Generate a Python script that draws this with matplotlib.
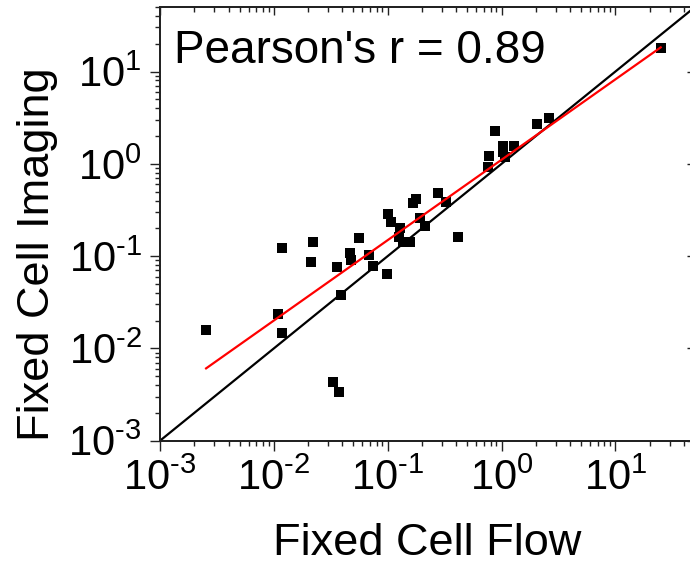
import numpy as np
import matplotlib
matplotlib.use("Agg")
import matplotlib.pyplot as plt
from matplotlib.ticker import FuncFormatter

plt.rcParams['font.family'] = ['Liberation Sans', 'DejaVu Sans']
plt.rcParams['mathtext.fontset'] = 'custom'
plt.rcParams['mathtext.rm'] = 'Liberation Sans'
plt.rcParams['mathtext.it'] = 'Liberation Sans:italic'
plt.rcParams['mathtext.bf'] = 'Liberation Sans:bold'
plt.rcParams['mathtext.default'] = 'regular'

# ---- data ----
flow = [0.00254, 0.0117, 0.0109, 0.0119, 0.0219, 0.0211, 0.036, 0.0388,
        0.0333, 0.0375, 0.0466, 0.048, 0.056, 0.0689, 0.0747, 0.099,
        0.101, 0.106, 0.128, 0.126, 0.136, 0.156, 0.168, 0.178, 0.192,
        0.212, 0.277, 0.327, 0.416, 0.762, 0.778, 0.879, 1.02, 1.28,
        1.07, 1.03, 2.03, 2.62, 25.0]
imaging = [0.0158, 0.123, 0.0236, 0.0146, 0.141, 0.0869, 0.0767, 0.0379,
           0.0043, 0.0034, 0.107, 0.0908, 0.156, 0.103, 0.078, 0.064,
           0.286, 0.232, 0.200, 0.162, 0.143, 0.143, 0.373, 0.415, 0.257,
           0.21, 0.486, 0.39, 0.161, 0.916, 1.22, 2.29, 1.56, 1.56,
           1.19, 1.35, 2.70, 3.15, 17.8]
fit_slope = 0.871       # log10-log10 regression slope
fit_intercept = 0.044   # log10 intercept
axis_limits = [1e-3, 50]
pearson_text = "Pearson's r = 0.89"
x_label = "Fixed Cell Flow"
y_label = "Fixed Cell Imaging"

W, H = 690, 564
fig = plt.figure(figsize=(W / 100, H / 100), dpi=100)
ax = fig.add_axes([160 / W, 123.3 / H, 535 / W, 433.7 / H])

ax.set_xscale('log')
ax.set_yscale('log')
ax.set_xlim(axis_limits)
ax.set_ylim(axis_limits)

spine_c = '#222222'
for s in ax.spines.values():
    s.set_color(spine_c)
    s.set_linewidth(1.2)

# identity line
ax.plot(axis_limits, axis_limits, color='black', lw=1.6, zorder=3)

# fit line
fx = np.array([min(flow), max(flow)])
fy = 10 ** (fit_intercept + fit_slope * np.log10(fx))
ax.plot(fx, fy, color='#ff0000', lw=1.6, zorder=4)

ax.plot(flow, imaging, linestyle='none', marker='s', ms=6.6,
        color='black', mec='black', mew=0, zorder=2)


def pow10(v, pos):
    e = int(round(np.log10(v)))
    return r'$10^{\text{%d}}$' % e


ax.xaxis.set_major_formatter(FuncFormatter(pow10))
ax.yaxis.set_major_formatter(FuncFormatter(pow10))

ax.tick_params(axis='both', which='major', direction='out', length=7.2,
               width=1.0, color=spine_c, labelsize=30, pad=6)
ax.tick_params(axis='both', which='minor', direction='out', length=3.6,
               width=1.0, color=spine_c)

# top ticks (inward) and right ticks (inward, major only)
axt = ax.twiny()
axt.set_xscale('log')
axt.set_xlim(axis_limits)
axt.tick_params(axis='x', which='major', direction='in', length=5.8,
                width=1.0, color=spine_c, labeltop=False, labelbottom=False)
axt.tick_params(axis='x', which='minor', direction='in', length=3.6,
                width=1.0, color=spine_c)
axr = ax.twinx()
axr.set_yscale('log')
axr.set_ylim(axis_limits)
axr.tick_params(axis='y', which='major', direction='in', length=5.8,
                width=1.0, color=spine_c, labelright=False, labelleft=False)
axr.tick_params(axis='y', which='minor', right=False, left=False)
for a in (axt, axr):
    for s in a.spines.values():
        s.set_color(spine_c)
        s.set_linewidth(1.2)

ax.text(0.026, 0.871, pearson_text, transform=ax.transAxes,
        fontsize=33, va='baseline', ha='left', zorder=5)

ax.set_xlabel(x_label, fontsize=32.5)
ax.set_ylabel(y_label, fontsize=32.5)
ax.xaxis.set_label_coords(0.499, -0.19)
ax.yaxis.set_label_coords(-0.19, 0.43)

fig.savefig('out.png', dpi=100)
